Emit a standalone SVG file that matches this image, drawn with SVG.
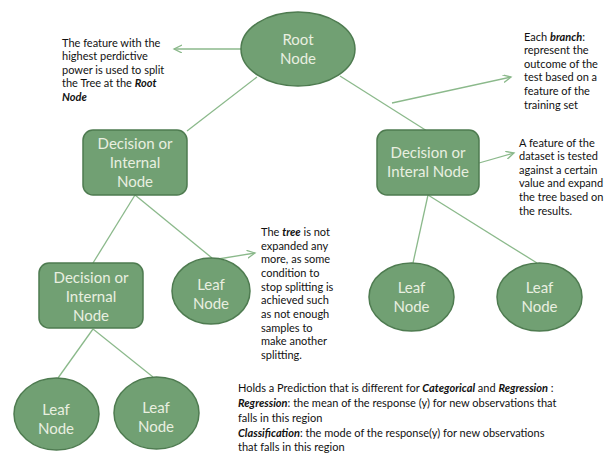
<svg xmlns="http://www.w3.org/2000/svg" width="616" height="454" viewBox="0 0 616 454">
<style>
.node{fill:#71a073;stroke:#4e7b50;stroke-width:1.5}
.nt{font-family:Lato,"Liberation Sans",sans-serif;font-size:15px;fill:#e9efe0;text-anchor:middle}
.con{stroke:#8bb98b;stroke-width:1.3;fill:none}
.arr{marker-end:url(#ah)}
.ann{font-family:Lato,"Liberation Sans",sans-serif;font-size:11px;fill:#111}
.bi{font-weight:bold;font-style:italic}
</style>
<defs>
<marker id="ah" markerWidth="10" markerHeight="10" refX="8" refY="4" orient="auto" markerUnits="userSpaceOnUse">
<path d="M0,0 L8,4 L0,8" fill="none" stroke="#8bb98b" stroke-width="1.3"/>
</marker>
</defs>
<rect width="616" height="454" fill="#fff"/>
<g id="connectors">
<line class="con arr" x1="242" y1="49" x2="174" y2="49"/>
<line class="con" x1="257" y1="77" x2="187" y2="131"/>
<line class="con" x1="340" y1="76" x2="427" y2="131"/>
<line class="con arr" x1="392" y1="103" x2="511" y2="77"/>
<line class="con arr" x1="479" y1="163" x2="514" y2="153"/>
<line class="con" x1="428" y1="195" x2="413" y2="263"/>
<line class="con" x1="428" y1="195" x2="537" y2="263"/>
<line class="con" x1="135" y1="195" x2="93" y2="263"/>
<line class="con" x1="135" y1="195" x2="212" y2="258"/>
<line class="con arr" x1="212" y1="260" x2="255" y2="253"/>
<line class="con" x1="93" y1="329" x2="58" y2="378"/>
<line class="con" x1="93" y1="329" x2="153" y2="377"/>
</g>
<g id="root">
<ellipse class="node" cx="298" cy="49" rx="57" ry="37"/>
<text class="nt" x="298" y="45">Root</text>
<text class="nt" x="298" y="64">Node</text>
</g>
<g id="decision-left">
<rect class="node" x="83" y="130" width="104" height="65" rx="10"/>
<text class="nt" x="135" y="149">Decision or</text>
<text class="nt" x="135" y="168">Internal</text>
<text class="nt" x="135" y="187">Node</text>
</g>
<g id="decision-right">
<rect class="node" x="377" y="130" width="102" height="65" rx="10"/>
<text class="nt" x="428" y="158">Decision or</text>
<text class="nt" x="428" y="177">Interal Node</text>
</g>
<g id="decision-lower">
<rect class="node" x="39" y="263" width="104" height="65" rx="10"/>
<text class="nt" x="91" y="283">Decision or</text>
<text class="nt" x="91" y="302">Internal</text>
<text class="nt" x="91" y="321">Node</text>
</g>
<g id="leaf-mid">
<ellipse class="node" cx="211" cy="291" rx="39" ry="33"/>
<text class="nt" x="211" y="290">Leaf</text>
<text class="nt" x="211" y="309">Node</text>
</g>
<g id="leaf-right-1">
<ellipse class="node" cx="411.5" cy="297" rx="42.5" ry="34"/>
<text class="nt" x="411.5" y="293">Leaf</text>
<text class="nt" x="411.5" y="312">Node</text>
</g>
<g id="leaf-right-2">
<ellipse class="node" cx="539.5" cy="297" rx="42.5" ry="34"/>
<text class="nt" x="539.5" y="293">Leaf</text>
<text class="nt" x="539.5" y="312">Node</text>
</g>
<g id="leaf-bottom-1">
<ellipse class="node" cx="56.5" cy="414" rx="42.5" ry="36"/>
<text class="nt" x="56" y="415">Leaf</text>
<text class="nt" x="56" y="434">Node</text>
</g>
<g id="leaf-bottom-2">
<ellipse class="node" cx="156.5" cy="413" rx="42.5" ry="36"/>
<text class="nt" x="156" y="413">Leaf</text>
<text class="nt" x="156" y="432">Node</text>
</g>
<g id="annotations">
<text class="ann" x="62" y="47">The feature  with the</text>
<text class="ann" x="62" y="60">highest perdictive</text>
<text class="ann" x="62" y="74">power  is used to split</text>
<text class="ann" x="62" y="87">the Tree at the <tspan class="bi">Root</tspan></text>
<text class="ann" x="62" y="101"><tspan class="bi">Node</tspan></text>

<text class="ann" x="524" y="41">Each <tspan class="bi">branch</tspan>:</text>
<text class="ann" x="524" y="54">represent the</text>
<text class="ann" x="524" y="68">outcome  of the</text>
<text class="ann" x="524" y="81">test based on a</text>
<text class="ann" x="524" y="95">feature of the</text>
<text class="ann" x="524" y="109">training set</text>

<text class="ann" x="519" y="147">A feature of the</text>
<text class="ann" x="519" y="160">dataset is tested</text>
<text class="ann" x="519" y="174">against a certain</text>
<text class="ann" x="519" y="187">value  and expand</text>
<text class="ann" x="519" y="201">the tree based on</text>
<text class="ann" x="519" y="215">the results.</text>

<text class="ann" x="261" y="236">The <tspan class="bi">tree</tspan> is not</text>
<text class="ann" x="261" y="250">expanded any</text>
<text class="ann" x="261" y="263">more, as some</text>
<text class="ann" x="261" y="277">condition to</text>
<text class="ann" x="261" y="291">stop splitting is</text>
<text class="ann" x="261" y="304">achieved such</text>
<text class="ann" x="261" y="318">as not enough</text>
<text class="ann" x="261" y="332">samples to</text>
<text class="ann" x="261" y="345">make another</text>
<text class="ann" x="261" y="359">splitting.</text>

<text class="ann" x="238" y="392">Holds a Prediction that is different for <tspan class="bi">Categorical</tspan> and <tspan class="bi">Regression</tspan> :</text>
<text class="ann" x="238" y="407"><tspan class="bi">Regression</tspan>: the mean of the  response (y) for new observations that</text>
<text class="ann" x="238" y="422">falls in this region</text>
<text class="ann" x="238" y="437"><tspan class="bi">Classification</tspan>: the mode of the  response(y) for new observations</text>
<text class="ann" x="238" y="451">that falls in this region</text>
</g>
</svg>
